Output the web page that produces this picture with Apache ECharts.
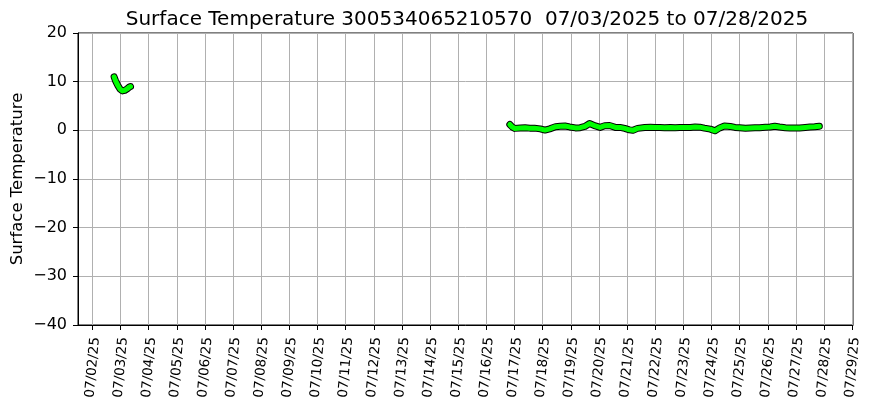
<!DOCTYPE html>
<html><head><meta charset="utf-8">
<script src="https://cdn.jsdelivr.net/npm/echarts@6/dist/echarts.min.js"></script>
<style>html,body{margin:0;padding:0;background:#fff}#c{width:872px;height:408px}</style>
</head><body><div id="c"></div><script>
// hours since 07/02/2025 00:00
const hours1 = [18.5, 19.5, 20.5, 21.5, 22.5, 23.5, 24.5, 25.5, 26.5, 27.5, 28.5, 29.5, 30.5, 31.5, 32.5];
const temps1 = [11.0, 10.3, 9.8, 9.3, 8.9, 8.5, 8.2, 8.1, 8.1, 8.2, 8.4, 8.5, 8.7, 8.9, 9.0];
const hours2 = [356, 358, 360, 365, 369, 373, 377, 382, 386, 390, 395, 399, 403, 407, 412, 416, 420, 424, 429, 433, 437, 441, 446, 450, 454, 458, 461, 465, 471, 476, 480, 484, 488, 493, 497, 501, 505, 510, 514, 518, 522, 527, 531, 535, 539, 544, 548, 552, 557, 561, 565, 569, 574, 578, 582, 586, 591, 595, 599, 603, 608, 612, 616, 620];
const temps2 = [1.2, 0.7, 0.4, 0.5, 0.55, 0.45, 0.45, 0.3, 0.05, 0.3, 0.75, 0.85, 0.9, 0.7, 0.5, 0.55, 0.8, 1.4, 0.9, 0.6, 0.95, 1.0, 0.6, 0.6, 0.4, 0.1, 0.0, 0.4, 0.6, 0.65, 0.6, 0.6, 0.55, 0.6, 0.55, 0.6, 0.6, 0.6, 0.7, 0.65, 0.45, 0.25, -0.1, 0.5, 0.9, 0.8, 0.6, 0.55, 0.45, 0.5, 0.55, 0.55, 0.65, 0.7, 0.85, 0.7, 0.55, 0.5, 0.5, 0.5, 0.6, 0.7, 0.75, 0.85];
const tickHours = [0, 24, 48, 72, 96, 120, 144, 168, 192, 216, 240, 264, 288, 312, 336, 360, 384, 408, 432, 456, 480, 504, 528, 552, 576, 600, 624, 648];
const tickLabels = ['07/02/25','07/03/25','07/04/25','07/05/25','07/06/25','07/07/25','07/08/25','07/09/25','07/10/25','07/11/25','07/12/25','07/13/25','07/14/25','07/15/25','07/16/25','07/17/25','07/18/25','07/19/25','07/20/25','07/21/25','07/22/25','07/23/25','07/24/25','07/25/25','07/26/25','07/27/25','07/28/25','07/29/25'];
const titleText = 'Surface Temperature 300534065210570  07/03/2025 to 07/28/2025';
const yName = 'Surface Temperature';

const seg1 = hours1.map((h, i) => [h, temps1[i]]);
const seg2 = hours2.map((h, i) => [h, temps2[i]]);
const FONT = 'DejaVu Sans';
function lineSeries(data, color, width, z) {
  return { type: 'line', data: data, showSymbol: false, symbol: 'none', z: z, silent: true,
    lineStyle: { color: color, width: width, cap: 'round', join: 'round' }, animation: false };
}
const chart = echarts.init(document.getElementById('c'), null, { renderer: 'canvas' });
chart.setOption({
  animation: false,
  backgroundColor: '#fff',
  title: { text: titleText, left: 462, top: 5, textAlign: 'center',
    textStyle: { fontFamily: FONT, fontSize: 20, fontWeight: 'normal', color: '#000' } },
  grid: { left: 78, right: 19, top: 33, bottom: 83, show: true, borderColor: '#000', borderWidth: 1,
    backgroundColor: 'transparent', outerBoundsMode: 'none', containLabel: false },
  xAxis: {
    type: 'value', min: -12.3, max: 648.7,
    axisLine: { show: true, onZero: false, lineStyle: { color: '#000', width: 1 } },
    axisTick: { show: true, inside: false, length: 5, customValues: tickHours, lineStyle: { color: '#000' } },
    axisLabel: { customValues: tickHours, rotate: 85, fontFamily: FONT, fontSize: 13.5, color: '#000', margin: 12,
      verticalAlign: 'top', lineHeight: 6,
      formatter: v => tickLabels[tickHours.indexOf(Math.round(v))] || '' },
    splitLine: { show: true, lineStyle: { color: '#b0b0b0', width: 1 } }
  },
  yAxis: {
    type: 'value', min: -40, max: 20, interval: 10,
    name: yName, nameLocation: 'middle', nameGap: 52, nameMoveOverlap: false,
    nameTextStyle: { fontFamily: FONT, fontSize: 16.5, color: '#000' },
    axisLine: { show: true, onZero: false, lineStyle: { color: '#000', width: 1 } },
    axisTick: { show: true, inside: false, length: 5, lineStyle: { color: '#000' } },
    axisLabel: { fontFamily: FONT, fontSize: 16, color: '#000', margin: 11,
      formatter: v => String(v).replace('-', '\u2212') },
    splitLine: { show: true, lineStyle: { color: '#b0b0b0', width: 1 } }
  },
  series: [
    lineSeries(seg1, '#000', 7, 2),
    lineSeries(seg2, '#000', 7, 2),
    lineSeries(seg1, '#00ff00', 5, 3),
    lineSeries(seg2, '#00ff00', 5, 3)
  ]
});
</script></body></html>
